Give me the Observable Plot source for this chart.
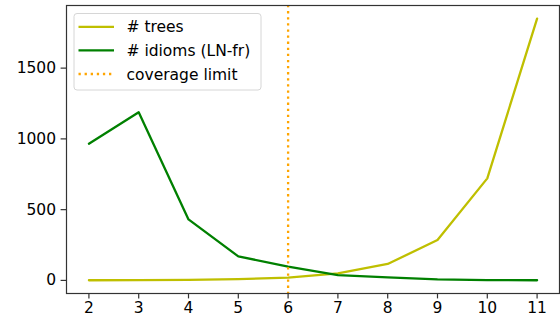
<!DOCTYPE html>
<html><head><meta charset="utf-8">
<script src="https://cdn.jsdelivr.net/npm/d3@7"></script>
<script src="https://cdn.jsdelivr.net/npm/@observablehq/plot@0.6"></script>
<style>
body{margin:0;background:#fff;}
#chart{position:relative;width:560px;height:322px;}
svg{font-family:"DejaVu Sans",sans-serif;}
</style>
</head><body><div id="chart"></div>
<script>
const sizes = [2, 3, 4, 5, 6, 7, 8, 9, 10, 11];
const trees = [1, 2, 4, 9, 19, 50, 116, 285, 721, 1850];
const idioms = [966, 1188, 431, 170, 97, 38, 21, 7, 2, 1];
const coverageLimit = 6;
const yTicks = [0, 500, 1000, 1500];
const seriesNames = ["# trees", "# idioms (LN-fr)", "coverage limit"];
const seriesColors = ["#bfbf00", "#008000", "#ffa500"];

const treeData = sizes.map((x, i) => ({x, y: trees[i]}));
const idiomData = sizes.map((x, i) => ({x, y: idioms[i]}));

const FS = 15.5;
const LW = 2.3;
const DOT = "2.3,3.8";

const plot = Plot.plot({
  width: 560, height: 322,
  marginLeft: 66, marginRight: 1, marginTop: 5, marginBottom: 29,
  style: {fontFamily: "DejaVu Sans", fontSize: FS + "px", color: "#000", background: "#fff"},
  x: {domain: [1.55, 11.45]},
  y: {domain: [-92.5, 1942.5]},
  marks: [
    Plot.axisX({ticks: sizes, tickFormat: d => String(d), tickSize: 5.4, tickPadding: 3, label: null, fontSize: FS, stroke: "#333", strokeWidth: 1.2}),
    Plot.axisY({ticks: yTicks, tickFormat: d => String(d), tickSize: 5.4, tickPadding: 5, label: null, fontSize: FS, stroke: "#333", strokeWidth: 1.2}),
    Plot.lineY(treeData, {x: "x", y: "y", stroke: seriesColors[0], strokeWidth: LW}),
    Plot.lineY(idiomData, {x: "x", y: "y", stroke: seriesColors[1], strokeWidth: LW}),
    Plot.ruleX([coverageLimit], {stroke: seriesColors[2], strokeWidth: LW, strokeDasharray: DOT}),
    Plot.frame({stroke: "#333", strokeWidth: 1.2})
  ]
});
document.getElementById("chart").appendChild(plot);

// legend inside the plot area (upper-left)
const svg = d3.select(plot);
const lg = svg.append("g").attr("transform", "translate(74,13.5)");
lg.append("rect").attr("x", 0).attr("y", 0).attr("width", 187).attr("height", 76.5)
  .attr("rx", 3).attr("fill", "#fff").attr("fill-opacity", 0.8).attr("stroke", "#d6d6d6");
seriesNames.forEach((name, i) => {
  const yy = 13.3 + i * 23.6;
  lg.append("line").attr("x1", 4.5).attr("x2", 40).attr("y1", yy).attr("y2", yy)
    .attr("stroke", seriesColors[i]).attr("stroke-width", LW)
    .attr("stroke-dasharray", i === 2 ? DOT : null);
  lg.append("text").attr("x", 52.5).attr("y", yy).attr("dy", "0.36em")
    .attr("text-anchor", "start")
    .attr("font-size", FS).attr("fill", "#000").text(name);
});
</script>
</body></html>
